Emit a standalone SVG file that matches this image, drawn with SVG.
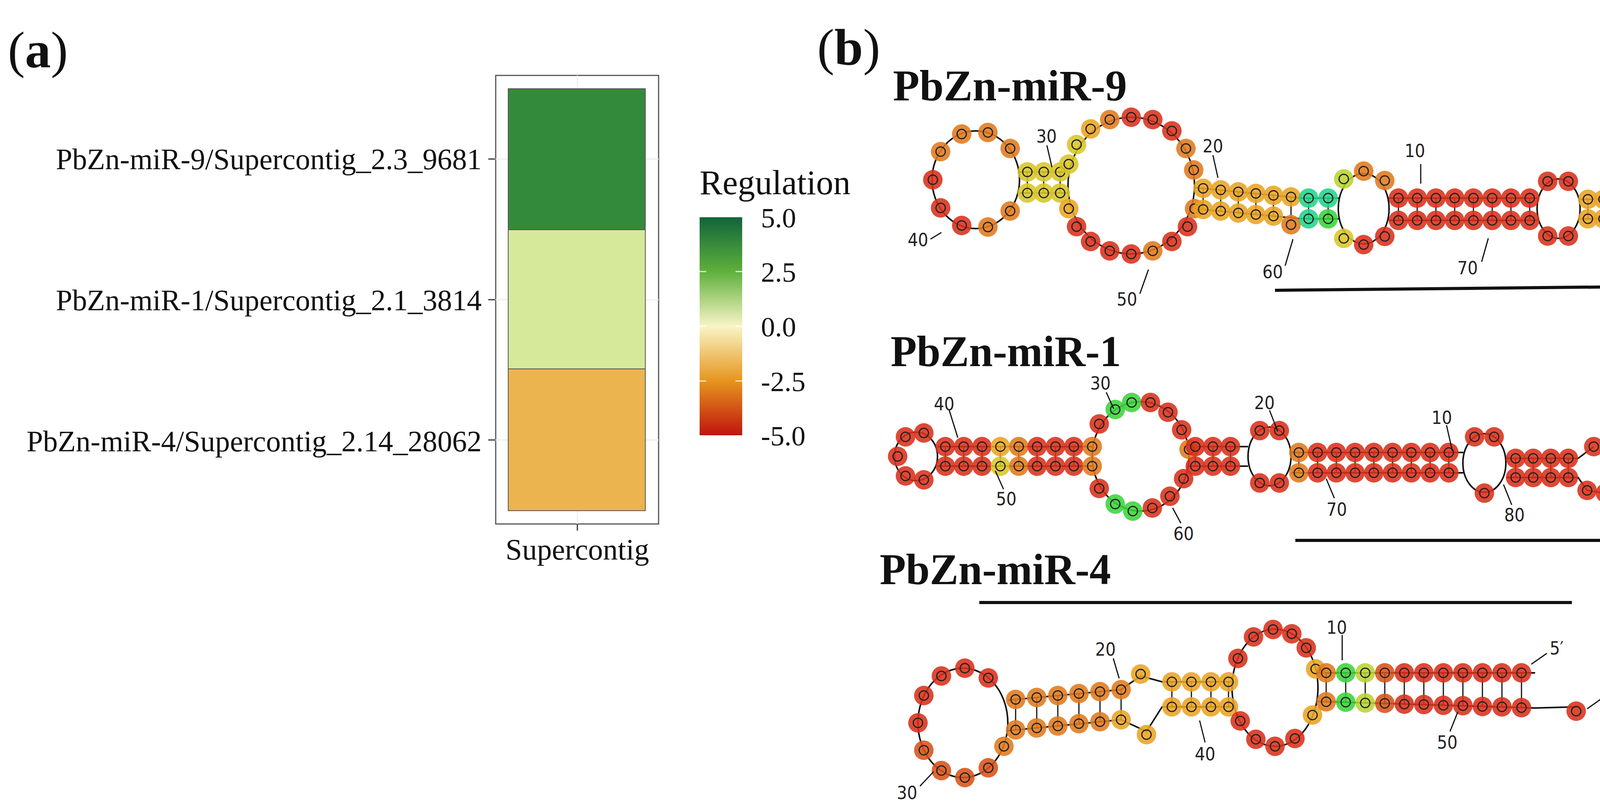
<svg xmlns="http://www.w3.org/2000/svg" xmlns:xlink="http://www.w3.org/1999/xlink" width="4270" height="2073" viewBox="0 0 4270 2073">
<style>
.serif{font-family:"Liberation Serif","Times New Roman",serif;fill:#111}
.num{font-family:"DejaVu Sans Condensed","DejaVu Sans",sans-serif;font-size:46px;fill:#222;text-anchor:middle}
.bb{fill:none;stroke:#111;stroke-width:4}
.tk{stroke:#111;stroke-width:3}
.r{fill:#d9301a}.o{fill:#e07a1c}.a{fill:#e9a423}.y{fill:#d8c628}.yg{fill:#b8d430}.g{fill:#3ad43a}.t{fill:#22d48a}.dr{fill:#d85218}
</style>
<defs>
<g id="n"><circle r="25" opacity="0.88"/><circle r="12" fill="none" stroke="#222" stroke-width="3"/></g>
<linearGradient id="cb" x1="0" y1="0" x2="0" y2="1">
<stop offset="0" stop-color="#11653a"/><stop offset="0.25" stop-color="#5fb03c"/><stop offset="0.5" stop-color="#f9f5c6"/><stop offset="0.75" stop-color="#e6951e"/><stop offset="1" stop-color="#c0140e"/>
</linearGradient>
</defs>

<g id="panel-a">
<text class="serif" x="20" y="172" font-size="132">(<tspan font-weight="bold">a</tspan>)</text>
<rect x="1269" y="193" width="417" height="1148" fill="#fff" stroke="#555" stroke-width="3"/>
<g stroke="#eee" stroke-width="3"><line x1="1478" y1="193" x2="1478" y2="1341"/><line x1="1269" y1="407" x2="1686" y2="407"/><line x1="1269" y1="767" x2="1686" y2="767"/><line x1="1269" y1="1126" x2="1686" y2="1126"/></g>
<rect x="1301" y="227" width="351" height="361" fill="#338a3a" stroke="#555" stroke-width="2"/>
<rect x="1301" y="588" width="351" height="356" fill="#d6e99a" stroke="#555" stroke-width="2"/>
<rect x="1301" y="944" width="351" height="363" fill="#ecb44e" stroke="#555" stroke-width="2"/>
<g stroke="#333" stroke-width="3"><line x1="1250" y1="407" x2="1267" y2="407"/><line x1="1250" y1="767" x2="1267" y2="767"/><line x1="1250" y1="1126" x2="1267" y2="1126"/><line x1="1478" y1="1341" x2="1478" y2="1358"/></g>
<g class="serif" font-size="76" text-anchor="end">
<text x="1233" y="433" textLength="1090" lengthAdjust="spacingAndGlyphs">PbZn-miR-9/Supercontig_2.3_9681</text>
<text x="1233" y="794" textLength="1090" lengthAdjust="spacingAndGlyphs">PbZn-miR-1/Supercontig_2.1_3814</text>
<text x="1233" y="1155" textLength="1165" lengthAdjust="spacingAndGlyphs">PbZn-miR-4/Supercontig_2.14_28062</text>
</g>
<text class="serif" x="1478" y="1432" font-size="76" text-anchor="middle">Supercontig</text>
<text class="serif" x="1791" y="497" font-size="88">Regulation</text>
<rect x="1791" y="556" width="109" height="558" fill="url(#cb)"/>
<g stroke="#fff" stroke-width="3" opacity="0.8"><line x1="1791" y1="695" x2="1808" y2="695"/><line x1="1883" y1="695" x2="1900" y2="695"/><line x1="1791" y1="835" x2="1808" y2="835"/><line x1="1883" y1="835" x2="1900" y2="835"/><line x1="1791" y1="975" x2="1808" y2="975"/><line x1="1883" y1="975" x2="1900" y2="975"/></g>
<g class="serif" font-size="72">
<text x="1948" y="582">5.0</text><text x="1948" y="721">2.5</text><text x="1948" y="861">0.0</text><text x="1948" y="1001">-2.5</text><text x="1948" y="1140">-5.0</text>
</g>
</g>

<g id="panel-b-label"><text class="serif" x="2092" y="165" font-size="132">(<tspan font-weight="bold">b</tspan>)</text></g>

<g id="mir9">
<text class="serif" x="2286" y="257" font-size="112" font-weight="bold" textLength="599" lengthAdjust="spacingAndGlyphs">PbZn-miR-9</text>
<g class="bb">
<ellipse cx="2498" cy="460" rx="112" ry="125"/>
<ellipse cx="2896" cy="475" rx="162" ry="175"/>
<ellipse cx="3491" cy="534" rx="65" ry="90"/>
<ellipse cx="3990" cy="534" rx="55" ry="76"/>
<polyline points="2610,440 2734,440"/><polyline points="2610,494 2734,494"/>
<polyline points="3058,480 3333,507 3430,507"/><polyline points="3058,534 3333,560 3430,560"/>
<polyline points="3555,507 3935,507"/><polyline points="3555,564 3935,564"/>
<polyline points="4045,510 4105,510 4130,485"/><polyline points="4045,560 4105,560 4130,585"/>
</g>
<g class="tk">
<line x1="2630" y1="440" x2="2630" y2="494"/><line x1="2672" y1="440" x2="2672" y2="494"/><line x1="2714" y1="440" x2="2714" y2="494"/>
<line x1="3080" y1="482" x2="3080" y2="536"/><line x1="3125" y1="486" x2="3125" y2="540"/><line x1="3170" y1="491" x2="3170" y2="545"/><line x1="3215" y1="495" x2="3215" y2="549"/><line x1="3260" y1="500" x2="3260" y2="553"/><line x1="3305" y1="504" x2="3305" y2="557"/><line x1="3350" y1="507" x2="3350" y2="560"/><line x1="3400" y1="507" x2="3400" y2="560"/>
<line x1="3580" y1="507" x2="3580" y2="564"/><line x1="3628" y1="507" x2="3628" y2="564"/><line x1="3676" y1="507" x2="3676" y2="564"/><line x1="3724" y1="507" x2="3724" y2="564"/><line x1="3772" y1="507" x2="3772" y2="564"/><line x1="3820" y1="507" x2="3820" y2="564"/><line x1="3868" y1="507" x2="3868" y2="564"/><line x1="3916" y1="507" x2="3916" y2="564"/>
<line x1="4065" y1="510" x2="4065" y2="560"/><line x1="4105" y1="510" x2="4105" y2="560"/>
</g>
<use href="#n" class="o" x="2586" y="380"/><use href="#n" class="o" x="2529" y="339"/><use href="#n" class="o" x="2462" y="343"/><use href="#n" class="o" x="2408" y="388"/><use href="#n" class="r" x="2388" y="460"/><use href="#n" class="r" x="2408" y="532"/><use href="#n" class="r" x="2462" y="577"/><use href="#n" class="o" x="2529" y="581"/><use href="#n" class="o" x="2586" y="540"/>
<use href="#n" class="y" x="2630" y="440"/><use href="#n" class="y" x="2672" y="440"/><use href="#n" class="y" x="2714" y="440"/><use href="#n" class="y" x="2630" y="494"/><use href="#n" class="y" x="2672" y="494"/><use href="#n" class="y" x="2714" y="494"/>
<use href="#n" class="y" x="2736" y="420"/><use href="#n" class="y" x="2756" y="370"/><use href="#n" class="a" x="2792" y="330"/><use href="#n" class="o" x="2841" y="306"/><use href="#n" class="r" x="2896" y="300"/><use href="#n" class="r" x="2951" y="306"/><use href="#n" class="r" x="3000" y="335"/><use href="#n" class="o" x="3036" y="380"/><use href="#n" class="o" x="3056" y="435"/>
<use href="#n" class="o" x="3058" y="534"/><use href="#n" class="r" x="3040" y="580"/><use href="#n" class="r" x="3000" y="618"/><use href="#n" class="o" x="2951" y="642"/><use href="#n" class="r" x="2896" y="650"/><use href="#n" class="r" x="2841" y="642"/><use href="#n" class="r" x="2792" y="618"/><use href="#n" class="r" x="2756" y="580"/><use href="#n" class="a" x="2736" y="534"/>
<use href="#n" class="a" x="3080" y="482"/><use href="#n" class="a" x="3125" y="486"/><use href="#n" class="a" x="3170" y="491"/><use href="#n" class="a" x="3215" y="495"/><use href="#n" class="a" x="3260" y="500"/><use href="#n" class="a" x="3305" y="504"/>
<use href="#n" class="a" x="3080" y="536"/><use href="#n" class="a" x="3125" y="540"/><use href="#n" class="a" x="3170" y="545"/><use href="#n" class="a" x="3215" y="549"/><use href="#n" class="a" x="3260" y="553"/><use href="#n" class="o" x="3305" y="575"/>
<use href="#n" class="t" x="3350" y="507"/><use href="#n" class="t" x="3400" y="507"/><use href="#n" class="t" x="3350" y="560"/><use href="#n" class="g" x="3400" y="560"/>
<use href="#n" class="yg" x="3440" y="458"/><use href="#n" class="o" x="3491" y="438"/><use href="#n" class="o" x="3545" y="462"/><use href="#n" class="y" x="3440" y="610"/><use href="#n" class="r" x="3491" y="626"/><use href="#n" class="r" x="3545" y="605"/>
<use href="#n" class="r" x="3580" y="507"/><use href="#n" class="r" x="3628" y="507"/><use href="#n" class="r" x="3676" y="507"/><use href="#n" class="r" x="3724" y="507"/><use href="#n" class="r" x="3772" y="507"/><use href="#n" class="r" x="3820" y="507"/><use href="#n" class="r" x="3868" y="507"/><use href="#n" class="r" x="3916" y="507"/>
<use href="#n" class="r" x="3580" y="564"/><use href="#n" class="r" x="3628" y="564"/><use href="#n" class="r" x="3676" y="564"/><use href="#n" class="r" x="3724" y="564"/><use href="#n" class="r" x="3772" y="564"/><use href="#n" class="r" x="3820" y="564"/><use href="#n" class="r" x="3868" y="564"/><use href="#n" class="r" x="3916" y="564"/>
<use href="#n" class="r" x="3962" y="464"/><use href="#n" class="r" x="4015" y="464"/><use href="#n" class="r" x="3962" y="604"/><use href="#n" class="r" x="4015" y="604"/>
<use href="#n" class="a" x="4065" y="510"/><use href="#n" class="a" x="4105" y="510"/><use href="#n" class="a" x="4065" y="560"/><use href="#n" class="a" x="4105" y="560"/>
<g class="tk"><line x1="2693" y1="428" x2="2680" y2="372"/><line x1="3118" y1="455" x2="3105" y2="397"/><line x1="3637" y1="470" x2="3637" y2="420"/><line x1="2410" y1="595" x2="2382" y2="612"/><line x1="2940" y1="690" x2="2918" y2="752"/><line x1="3310" y1="612" x2="3290" y2="680"/><line x1="3810" y1="610" x2="3793" y2="670"/></g>
<text class="num" x="2679" y="365">30</text><text class="num" x="3105" y="390">20</text><text class="num" x="3622" y="402">10</text><text class="num" x="2350" y="630">40</text><text class="num" x="2885" y="782">50</text><text class="num" x="3258" y="712">60</text><text class="num" x="3757" y="702">70</text><text class="num" x="4140" y="470">5′</text><text class="num" x="4140" y="628">3′</text>
<line x1="3264" y1="743" x2="4152" y2="734" stroke="#111" stroke-width="8"/>
</g>

<g id="mir1">
<text class="serif" x="2280" y="937" font-size="112" font-weight="bold" textLength="590" lengthAdjust="spacingAndGlyphs">PbZn-miR-1</text>
<g class="bb">
<ellipse cx="2345" cy="1168" rx="55" ry="62"/>
<ellipse cx="2920" cy="1168" rx="124" ry="140"/>
<ellipse cx="3250" cy="1168" rx="55" ry="75"/>
<ellipse cx="3800" cy="1185" rx="55" ry="75"/>
<polyline points="2400,1143 2796,1143"/><polyline points="2400,1193 2796,1193"/>
<polyline points="3044,1143 3195,1143"/><polyline points="3044,1193 3195,1193"/>
<polyline points="3306,1158 3746,1158"/><polyline points="3306,1210 3746,1210"/>
<polyline points="3856,1173 4040,1173 4080,1143"/><polyline points="3856,1222 4040,1222 4063,1255 4110,1262 4150,1210"/>
</g>
<g class="tk">
<line x1="2420" y1="1143" x2="2420" y2="1193"/><line x1="2467" y1="1143" x2="2467" y2="1193"/><line x1="2514" y1="1143" x2="2514" y2="1193"/><line x1="2561" y1="1143" x2="2561" y2="1193"/><line x1="2608" y1="1143" x2="2608" y2="1193"/><line x1="2655" y1="1143" x2="2655" y2="1193"/><line x1="2702" y1="1143" x2="2702" y2="1193"/><line x1="2749" y1="1143" x2="2749" y2="1193"/>
<line x1="3060" y1="1143" x2="3060" y2="1193"/><line x1="3105" y1="1143" x2="3105" y2="1193"/><line x1="3150" y1="1143" x2="3150" y2="1193"/>
<line x1="3325" y1="1158" x2="3325" y2="1210"/><line x1="3373" y1="1158" x2="3373" y2="1210"/><line x1="3421" y1="1158" x2="3421" y2="1210"/><line x1="3469" y1="1158" x2="3469" y2="1210"/><line x1="3517" y1="1158" x2="3517" y2="1210"/><line x1="3565" y1="1158" x2="3565" y2="1210"/><line x1="3613" y1="1158" x2="3613" y2="1210"/><line x1="3661" y1="1158" x2="3661" y2="1210"/><line x1="3709" y1="1158" x2="3709" y2="1210"/>
<line x1="3880" y1="1173" x2="3880" y2="1222"/><line x1="3925" y1="1173" x2="3925" y2="1222"/><line x1="3970" y1="1173" x2="3970" y2="1222"/><line x1="4015" y1="1173" x2="4015" y2="1222"/>
</g>
<use href="#n" class="r" x="2365" y="1108"/><use href="#n" class="r" x="2318" y="1118"/><use href="#n" class="r" x="2298" y="1168"/><use href="#n" class="r" x="2318" y="1218"/><use href="#n" class="r" x="2365" y="1228"/>
<use href="#n" class="r" x="2420" y="1143"/><use href="#n" class="r" x="2467" y="1143"/><use href="#n" class="r" x="2514" y="1143"/><use href="#n" class="a" x="2561" y="1143"/><use href="#n" class="o" x="2608" y="1143"/><use href="#n" class="r" x="2655" y="1143"/><use href="#n" class="r" x="2702" y="1143"/><use href="#n" class="r" x="2749" y="1143"/><use href="#n" class="o" x="2796" y="1143"/>
<use href="#n" class="r" x="2420" y="1193"/><use href="#n" class="r" x="2467" y="1193"/><use href="#n" class="r" x="2514" y="1193"/><use href="#n" class="y" x="2561" y="1193"/><use href="#n" class="o" x="2608" y="1193"/><use href="#n" class="r" x="2655" y="1193"/><use href="#n" class="r" x="2702" y="1193"/><use href="#n" class="r" x="2749" y="1193"/><use href="#n" class="o" x="2796" y="1193"/>
<use href="#n" class="r" x="2814" y="1085"/><use href="#n" class="g" x="2855" y="1048"/><use href="#n" class="g" x="2897" y="1030"/><use href="#n" class="r" x="2945" y="1030"/><use href="#n" class="r" x="2990" y="1055"/><use href="#n" class="r" x="3025" y="1100"/><use href="#n" class="o" x="3044" y="1150"/>
<use href="#n" class="r" x="2814" y="1250"/><use href="#n" class="g" x="2855" y="1290"/><use href="#n" class="g" x="2900" y="1308"/><use href="#n" class="r" x="2950" y="1300"/><use href="#n" class="r" x="2995" y="1270"/><use href="#n" class="r" x="3030" y="1225"/>
<use href="#n" class="r" x="3060" y="1143"/><use href="#n" class="r" x="3105" y="1143"/><use href="#n" class="r" x="3150" y="1143"/><use href="#n" class="r" x="3060" y="1193"/><use href="#n" class="r" x="3105" y="1193"/><use href="#n" class="r" x="3150" y="1193"/>
<use href="#n" class="r" x="3225" y="1102"/><use href="#n" class="r" x="3275" y="1102"/><use href="#n" class="r" x="3225" y="1236"/><use href="#n" class="r" x="3275" y="1236"/>
<use href="#n" class="o" x="3325" y="1158"/><use href="#n" class="r" x="3373" y="1158"/><use href="#n" class="r" x="3421" y="1158"/><use href="#n" class="r" x="3469" y="1158"/><use href="#n" class="r" x="3517" y="1158"/><use href="#n" class="r" x="3565" y="1158"/><use href="#n" class="r" x="3613" y="1158"/><use href="#n" class="r" x="3661" y="1158"/><use href="#n" class="r" x="3709" y="1158"/>
<use href="#n" class="o" x="3325" y="1210"/><use href="#n" class="r" x="3373" y="1210"/><use href="#n" class="r" x="3421" y="1210"/><use href="#n" class="r" x="3469" y="1210"/><use href="#n" class="r" x="3517" y="1210"/><use href="#n" class="r" x="3565" y="1210"/><use href="#n" class="r" x="3613" y="1210"/><use href="#n" class="r" x="3661" y="1210"/><use href="#n" class="r" x="3709" y="1210"/>
<use href="#n" class="r" x="3775" y="1118"/><use href="#n" class="r" x="3825" y="1118"/><use href="#n" class="r" x="3800" y="1262"/>
<use href="#n" class="r" x="3880" y="1173"/><use href="#n" class="r" x="3925" y="1173"/><use href="#n" class="r" x="3970" y="1173"/><use href="#n" class="r" x="4015" y="1173"/><use href="#n" class="r" x="3880" y="1222"/><use href="#n" class="r" x="3925" y="1222"/><use href="#n" class="r" x="3970" y="1222"/><use href="#n" class="r" x="4015" y="1222"/>
<use href="#n" class="r" x="4080" y="1143"/><use href="#n" class="r" x="4063" y="1255"/><use href="#n" class="r" x="4110" y="1262"/><use href="#n" class="r" x="4150" y="1210"/>
<g class="tk"><line x1="2430" y1="1050" x2="2452" y2="1120"/><line x1="2832" y1="1004" x2="2851" y2="1046"/><line x1="3250" y1="1050" x2="3271" y2="1104"/><line x1="3703" y1="1088" x2="3718" y2="1154"/><line x1="2548" y1="1205" x2="2569" y2="1252"/><line x1="3002" y1="1300" x2="3023" y2="1339"/><line x1="3395" y1="1225" x2="3416" y2="1275"/><line x1="3849" y1="1240" x2="3870" y2="1292"/><line x1="4100" y1="1125" x2="4120" y2="1105"/></g>
<text class="num" x="2417" y="1050">40</text><text class="num" x="2817" y="997">30</text><text class="num" x="3237" y="1047">20</text><text class="num" x="3691" y="1085">10</text><text class="num" x="2576" y="1293">50</text><text class="num" x="3030" y="1382">60</text><text class="num" x="3422" y="1320">70</text><text class="num" x="3877" y="1334">80</text><text class="num" x="4130" y="1098">3′</text><text class="num" x="4140" y="1172">5′</text>
<line x1="3316" y1="1383" x2="4156" y2="1383" stroke="#111" stroke-width="8"/>
</g>

<g id="mir4">
<text class="serif" x="2252" y="1495" font-size="112" font-weight="bold" textLength="592" lengthAdjust="spacingAndGlyphs">PbZn-miR-4</text>
<line x1="2507" y1="1542" x2="4024" y2="1542" stroke="#111" stroke-width="8"/>
<g class="bb">
<ellipse cx="2465" cy="1850" rx="115" ry="140"/>
<ellipse cx="3264" cy="1760" rx="110" ry="150"/>
<polyline points="2580,1792 2870,1765 2920,1730 2975,1745 3154,1745"/>
<polyline points="2580,1870 2870,1842 2935,1872 2975,1809 3154,1809"/>
<polyline points="3374,1722 3930,1722"/>
<polyline points="3374,1795 3930,1812 4035,1809"/>
</g>
<g class="tk">
<line x1="2600" y1="1790" x2="2600" y2="1868"/><line x1="2654" y1="1785" x2="2654" y2="1863"/><line x1="2708" y1="1780" x2="2708" y2="1858"/><line x1="2762" y1="1775" x2="2762" y2="1852"/><line x1="2816" y1="1770" x2="2816" y2="1847"/><line x1="2870" y1="1765" x2="2870" y2="1842"/>
<line x1="3000" y1="1745" x2="3000" y2="1809"/><line x1="3050" y1="1745" x2="3050" y2="1809"/><line x1="3100" y1="1745" x2="3100" y2="1809"/><line x1="3145" y1="1745" x2="3145" y2="1809"/>
<line x1="3395" y1="1722" x2="3395" y2="1796"/><line x1="3445" y1="1722" x2="3445" y2="1797"/><line x1="3495" y1="1722" x2="3495" y2="1799"/><line x1="3545" y1="1722" x2="3545" y2="1800"/><line x1="3595" y1="1722" x2="3595" y2="1802"/><line x1="3645" y1="1722" x2="3645" y2="1803"/><line x1="3695" y1="1722" x2="3695" y2="1805"/><line x1="3745" y1="1722" x2="3745" y2="1806"/><line x1="3795" y1="1722" x2="3795" y2="1808"/><line x1="3845" y1="1722" x2="3845" y2="1809"/><line x1="3895" y1="1722" x2="3895" y2="1811"/>
</g>
<use href="#n" class="r" x="2530" y="1735"/><use href="#n" class="r" x="2470" y="1710"/><use href="#n" class="r" x="2410" y="1730"/><use href="#n" class="r" x="2365" y="1780"/><use href="#n" class="r" x="2350" y="1850"/><use href="#n" class="dr" x="2365" y="1920"/><use href="#n" class="dr" x="2410" y="1972"/><use href="#n" class="dr" x="2470" y="1990"/><use href="#n" class="dr" x="2530" y="1965"/><use href="#n" class="o" x="2570" y="1910"/>
<use href="#n" class="o" x="2600" y="1790"/><use href="#n" class="o" x="2654" y="1785"/><use href="#n" class="o" x="2708" y="1780"/><use href="#n" class="o" x="2762" y="1775"/><use href="#n" class="o" x="2816" y="1770"/><use href="#n" class="o" x="2870" y="1765"/>
<use href="#n" class="o" x="2600" y="1868"/><use href="#n" class="o" x="2654" y="1863"/><use href="#n" class="o" x="2708" y="1858"/><use href="#n" class="o" x="2762" y="1852"/><use href="#n" class="o" x="2816" y="1847"/><use href="#n" class="a" x="2870" y="1842"/>
<use href="#n" class="a" x="2920" y="1725"/><use href="#n" class="a" x="2935" y="1880"/>
<use href="#n" class="a" x="3000" y="1745"/><use href="#n" class="a" x="3050" y="1745"/><use href="#n" class="a" x="3100" y="1745"/><use href="#n" class="a" x="3145" y="1745"/>
<use href="#n" class="a" x="3000" y="1809"/><use href="#n" class="a" x="3050" y="1809"/><use href="#n" class="a" x="3100" y="1809"/><use href="#n" class="a" x="3145" y="1809"/>
<use href="#n" class="r" x="3169" y="1685"/><use href="#n" class="r" x="3209" y="1630"/><use href="#n" class="r" x="3259" y="1611"/><use href="#n" class="r" x="3307" y="1622"/><use href="#n" class="r" x="3344" y="1658"/><use href="#n" class="a" x="3368" y="1712"/>
<use href="#n" class="r" x="3175" y="1845"/><use href="#n" class="r" x="3215" y="1892"/><use href="#n" class="r" x="3264" y="1910"/><use href="#n" class="r" x="3315" y="1890"/><use href="#n" class="a" x="3360" y="1830"/>
<use href="#n" class="o" x="3395" y="1722"/><use href="#n" class="g" x="3445" y="1722"/><use href="#n" class="yg" x="3495" y="1722"/><use href="#n" class="dr" x="3545" y="1722"/><use href="#n" class="r" x="3595" y="1722"/><use href="#n" class="r" x="3645" y="1722"/><use href="#n" class="r" x="3695" y="1722"/><use href="#n" class="r" x="3745" y="1722"/><use href="#n" class="r" x="3795" y="1722"/><use href="#n" class="r" x="3845" y="1722"/><use href="#n" class="r" x="3895" y="1722"/>
<use href="#n" class="o" x="3395" y="1796"/><use href="#n" class="g" x="3445" y="1797"/><use href="#n" class="yg" x="3495" y="1799"/><use href="#n" class="dr" x="3545" y="1800"/><use href="#n" class="r" x="3595" y="1802"/><use href="#n" class="r" x="3645" y="1803"/><use href="#n" class="r" x="3695" y="1805"/><use href="#n" class="r" x="3745" y="1806"/><use href="#n" class="r" x="3795" y="1808"/><use href="#n" class="r" x="3845" y="1809"/><use href="#n" class="r" x="3895" y="1811"/>
<use href="#n" class="r" x="4035" y="1820"/>
<g class="tk"><line x1="2850" y1="1685" x2="2865" y2="1736"/><line x1="3436" y1="1625" x2="3436" y2="1690"/><line x1="3071" y1="1844" x2="3085" y2="1900"/><line x1="3732" y1="1822" x2="3712" y2="1872"/><line x1="2390" y1="1975" x2="2355" y2="2012"/><line x1="3920" y1="1700" x2="3960" y2="1672"/><line x1="4063" y1="1814" x2="4100" y2="1788"/></g>
<text class="num" x="2830" y="1678">20</text><text class="num" x="3422" y="1622">10</text><text class="num" x="3085" y="1946">40</text><text class="num" x="3705" y="1916">50</text><text class="num" x="2322" y="2045">30</text><text class="num" x="3985" y="1675">5′</text><text class="num" x="4125" y="1786">3′</text>
</g>
</svg>
